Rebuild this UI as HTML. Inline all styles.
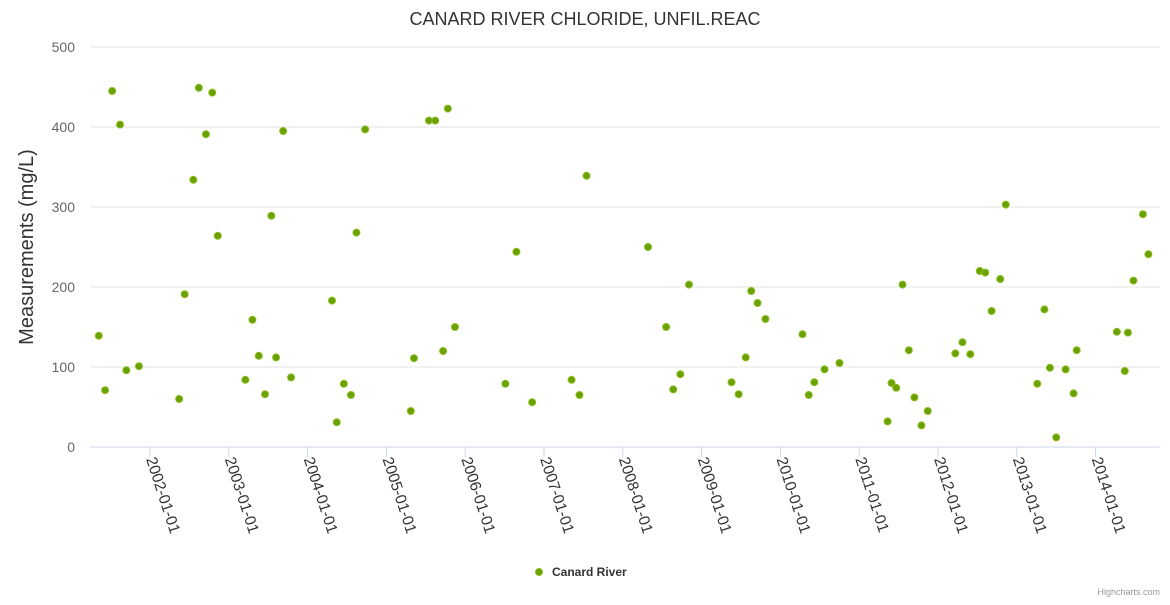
<!DOCTYPE html>
<html><head><meta charset="utf-8"><style>
body{margin:0;background:#fff;font-family:"Liberation Sans",sans-serif;}
svg text{font-family:"Liberation Sans",sans-serif;}
</style></head><body>
<svg id="chart" width="1170" height="600">
<text x="585" y="25" text-anchor="middle" font-size="18" fill="#333">CANARD RIVER CHLORIDE, UNFIL.REAC</text>
<text transform="translate(33,247) rotate(-90)" text-anchor="middle" font-size="20" fill="#333">Measurements (mg/L)</text>
<g id="grid"></g><g id="xaxis"></g><g id="points"></g>
<g>
<circle cx="539" cy="572" r="3.5" fill="#6aa100" stroke="#8bbc21" stroke-width="1"/>
<text x="552" y="576" font-size="12" font-weight="bold" fill="#333">Canard River</text></g>
<text x="1160" y="595" text-anchor="end" font-size="9" fill="#999">Highcharts.com</text>
</svg>
<script>
const yTicks=[0,100,200,300,400,500];
const xTickYears=[2002,2003,2004,2005,2006,2007,2008,2009,2010,2011,2012,2013,2014];
const dates=[2001.35,2001.43,2001.52,2001.62,2001.70,2001.86,2002.37,2002.44,2002.55,2002.62,2002.71,2002.79,2002.86,2003.21,2003.30,2003.38,2003.46,2003.54,2003.60,2003.69,2003.79,2004.31,2004.37,2004.46,2004.55,2004.62,2004.73,2005.31,2005.35,2005.54,2005.62,2005.72,2005.78,2005.87,2006.51,2006.65,2006.85,2007.35,2007.45,2007.54,2008.32,2008.55,2008.64,2008.73,2008.84,2009.38,2009.47,2009.56,2009.63,2009.71,2009.81,2010.28,2010.36,2010.43,2010.56,2010.75,2011.36,2011.41,2011.47,2011.55,2011.63,2011.70,2011.79,2011.87,2012.22,2012.31,2012.41,2012.53,2012.60,2012.68,2012.79,2012.86,2013.26,2013.35,2013.42,2013.50,2013.62,2013.72,2013.76,2014.27,2014.37,2014.41,2014.48,2014.60,2014.67];
const values=[139,71,445,403,96,101,60,191,334,449,391,443,264,84,159,114,66,289,112,395,87,183,31,79,65,268,397,45,111,408,408,120,423,150,79,244,56,84,65,339,250,150,72,91,203,81,66,112,195,180,160,141,65,81,97,105,32,80,74,203,121,62,27,45,117,131,116,220,218,170,210,303,79,172,99,12,97,67,121,144,95,143,208,291,241];
const NS="http://www.w3.org/2000/svg";
const X0=90,X1=1160,Y0=447,Y1=47;
function xScale(yr){return 150+(yr-2002)*78.8;}
function yScale(v){return Y0-(v/500)*(Y0-Y1);}
function mk(t,a,p){const e=document.createElementNS(NS,t);for(const k in a)e.setAttribute(k,a[k]);p.appendChild(e);return e;}
const grid=document.getElementById('grid');
yTicks.forEach(v=>{
 const y=yScale(v);
 const l=mk('line',{x1:X0,x2:X1,y1:y,y2:y,stroke:v===0?'#ccd6eb':'#e6e6e6','stroke-width':1},grid);
 
 
 const t=mk('text',{x:75,y:y+5,'text-anchor':'end','font-size':14,fill:'#666'},grid);
 t.textContent=v;
 
 
});
const xa=document.getElementById('xaxis');
xTickYears.forEach(yr=>{
 const x=xScale(yr);
 const l=mk('line',{x1:x,x2:x,y1:Y0,y2:Y0+10,stroke:'#ccd6eb'},xa);
 
 
 const t=mk('text',{transform:`translate(${x-4},${Y0+12}) rotate(72)`,'font-size':15.5,fill:'#333'},xa);
 t.textContent=yr+'-01-01';
 
 
});
const pts=document.getElementById('points');
dates.forEach((d,i)=>{
 const c=mk('circle',{cx:xScale(d),cy:yScale(values[i]),r:3.5,fill:'#6aa100',stroke:'#8bbc21','stroke-width':1},pts);
 
 
});
</script>
</body></html>
